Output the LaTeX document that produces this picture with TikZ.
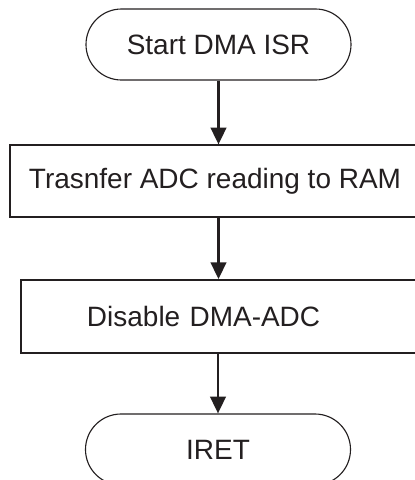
\documentclass[tikz,border=0pt]{standalone}
\usepackage{fontspec}
\setmainfont{Liberation Sans}
\usepackage{tikz}
\usetikzlibrary{arrows.meta,shapes.misc}
\definecolor{isr@ink}{RGB}{35, 31, 32}

\begin{document}
\begin{tikzpicture}[
  term/.style = {rounded rectangle, draw=isr@ink, line width=0.8pt,
                 minimum width=6.625cm, minimum height=1.775cm,
                 font=\fontsize{19.9}{24}\selectfont, text=isr@ink, inner sep=0pt},
  proc/.style = {rectangle, draw=isr@ink, line width=0.8pt, minimum height=1.8cm,
                 font=\fontsize{19.9}{24}\selectfont, text=isr@ink},
  fl/.style   = {-{Triangle[length=12pt,width=11pt]}, isr@ink, line width=2pt},
]
  \useasboundingbox (0,0) rectangle (10.35,-12);

  \node[term] (st)   at (5.4625,-1.1125)  {Start DMA ISR};
  \node[proc, minimum width=10.25cm] (xfer) at (5.375,-4.525) {Trasnfer ADC reading to RAM};
  \node[proc, line width=1.2pt, text width=6.7cm, inner xsep=1.65cm, align=left,
        minimum height=1.825cm] (dis) at (5.525,-7.9125) {Disable DMA-ADC};
  \node[term] (iret) at (5.45,-11.2375)  {IRET};

  \draw[fl] (st.south) -- (st.south |- xfer.north);
  \draw[fl] (st.south |- xfer.south) -- (st.south |- dis.north);
  \draw[fl] (iret.north |- dis.south) -- (iret.north);
\end{tikzpicture}
\end{document}
